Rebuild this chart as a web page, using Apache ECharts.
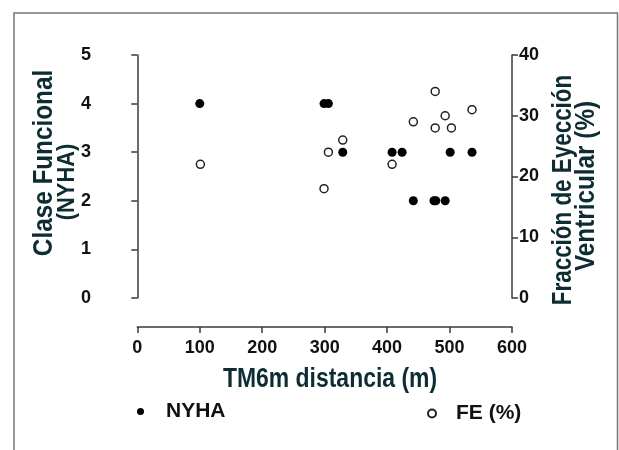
<!DOCTYPE html>
<html>
<head>
<meta charset="utf-8">
<script src="https://cdn.jsdelivr.net/npm/echarts@6/dist/echarts.min.js"></script>
<style>
  html, body { margin: 0; padding: 0; background: #fff; }
  #chart { width: 619px; height: 450px; }
</style>
</head>
<body>
<div id="chart"></div>
<script>
// TM6m distance (m) per patient
var nyhaX = [100, 299, 306, 329, 408, 424, 442, 475, 478, 493, 501, 536];
var nyhaY = [4, 4, 4, 3, 3, 3, 2, 2, 2, 2, 3, 3];
var feX = [101, 299, 306, 329, 408, 442, 477, 477, 493, 503, 536];
var feY = [22, 18, 24, 26, 22, 29, 34, 28, 30, 28, 31];
var xTicks = [0, 600, 100];
var nyhaTicks = [0, 5, 1];
var feTicks = [0, 40, 10];

var font = '"Liberation Sans", Arial, sans-serif';
var titleColor = '#0d2d33';
var axisColor = '#3a3a3a';

var chart = echarts.init(document.getElementById('chart'));

function pairs(xs, ys) {
    var out = [];
    for (var i = 0; i < xs.length; i++) out.push([xs[i], ys[i]]);
    return out;
}

// narrow-looking bold title, drawn as text and squeezed along its direction
function title(text, x, y, size, squeeze, rotate) {
    return {
        type: 'text', x: x, y: y, rotation: rotate ? Math.PI / 2 : 0,
        scaleX: squeeze, silent: true,
        style: { text: text, fill: titleColor, font: 'bold ' + size + 'px ' + font, textAlign: 'center', textVerticalAlign: 'middle' }
    };
}

var tickLabel = { color: '#111', fontSize: 18, fontWeight: 'bold', fontFamily: font };
var lineStyle = { color: axisColor, width: 1.5 };

var option = {
    animation: false,
    backgroundColor: '#fff',
    grid: [
        { left: 110, right: 107, top: 55, bottom: 152 },
        { left: 137.3, right: 107, top: 326, height: 1 }
    ],
    xAxis: [
        {
            gridIndex: 0, type: 'value',
            min: -43.7, max: xTicks[1],
            show: false
        },
        {
            gridIndex: 1, type: 'value', position: 'bottom',
            min: xTicks[0], max: xTicks[1], interval: xTicks[2],
            axisLine: { show: true, lineStyle: lineStyle },
            axisTick: { show: true, length: 6, lineStyle: lineStyle },
            axisLabel: Object.assign({ margin: 12 }, tickLabel),
            splitLine: { show: false }
        }
    ],
    yAxis: [
        {
            gridIndex: 0, type: 'value', position: 'left',
            min: nyhaTicks[0], max: nyhaTicks[1], interval: nyhaTicks[2],
            axisLine: { show: true, lineStyle: lineStyle },
            axisTick: { show: true, length: 6, lineStyle: lineStyle },
            axisLabel: Object.assign({ margin: 19 }, tickLabel),
            splitLine: { show: false }
        },
        {
            gridIndex: 0, type: 'value', position: 'right',
            min: feTicks[0], max: feTicks[1], interval: feTicks[2],
            axisLine: { show: true, lineStyle: lineStyle },
            axisTick: { show: true, length: 6, lineStyle: lineStyle },
            axisLabel: Object.assign({ margin: 7 }, tickLabel),
            splitLine: { show: false }
        },
        {
            gridIndex: 1, type: 'value', show: false
        }
    ],
    legend: [
        {
            data: ['NYHA'], left: 137, top: 401, padding: 0,
            itemWidth: 7, itemHeight: 7,
            textStyle: { color: '#111', fontSize: 21, fontWeight: 'bold', fontFamily: font, padding: [0, 0, 0, 17] }
        },
        {
            data: ['FE (%)'], left: 427, top: 403, padding: 0,
            itemWidth: 8, itemHeight: 8,
            textStyle: { color: '#111', fontSize: 21, fontWeight: 'bold', fontFamily: font, padding: [0, 0, 0, 15] }
        }
    ],
    series: [
        {
            name: 'NYHA', type: 'scatter',
            xAxisIndex: 0, yAxisIndex: 0,
            symbol: 'circle', symbolSize: 9,
            itemStyle: { color: '#000', opacity: 1 },
            data: pairs(nyhaX, nyhaY)
        },
        {
            name: 'FE (%)', type: 'scatter',
            xAxisIndex: 0, yAxisIndex: 1,
            symbol: 'circle', symbolSize: 8,
            itemStyle: { color: '#fff', borderColor: '#222', borderWidth: 1.5, opacity: 1 },
            data: pairs(feX, feY)
        }
    ],
    graphic: [
        {
            type: 'rect', silent: true,
            shape: { x: 14, y: 13, width: 603.5, height: 470 },
            style: { fill: 'none', stroke: '#767676', lineWidth: 1.5 }
        },
        title('Clase Funcional', 45, 163, 27, 0.9, true),
        title('(NYHA)', 68, 182, 23, 0.95, true),
        title('Fracción de Eyección', 564, 190, 27, 0.83, true),
        title('Ventricular (%)', 587, 186, 27, 0.9, true),
        title('TM6m distancia (m)', 330, 380, 27, 0.85, false)
    ]
};

chart.setOption(option);
window.addEventListener('resize', function () { chart.resize(); });
</script>
</body>
</html>
